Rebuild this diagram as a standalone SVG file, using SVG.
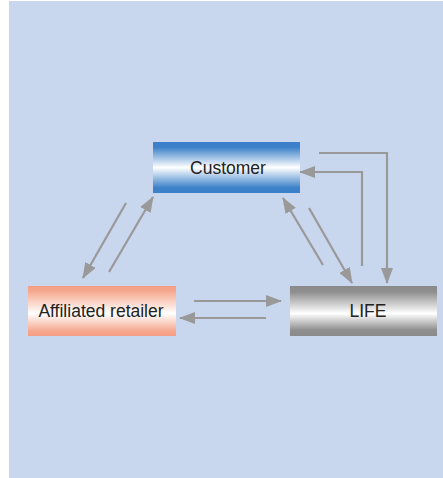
<svg xmlns="http://www.w3.org/2000/svg" width="443" height="478" viewBox="0 0 443 478">
<defs>
<style>
.lbl{font-family:"Liberation Sans",Arial,sans-serif;font-size:17.5px;fill:#222;text-anchor:middle}
.c{fill:none;stroke:#999;stroke-width:2.2}
</style>
<linearGradient id="gBlue" x1="0" y1="0" x2="0" y2="1">
<stop offset="0" stop-color="#3b80c8"/><stop offset="0.1" stop-color="#3b80c8"/><stop offset="0.5" stop-color="#ffffff"/><stop offset="0.9" stop-color="#3b80c8"/><stop offset="1" stop-color="#3b80c8"/>
</linearGradient>
<linearGradient id="gSalmon" x1="0" y1="0" x2="0" y2="1">
<stop offset="0" stop-color="#f59c84"/><stop offset="0.1" stop-color="#f5a88e"/><stop offset="0.55" stop-color="#ffffff"/><stop offset="0.9" stop-color="#f5a88e"/><stop offset="1" stop-color="#f59c84"/>
</linearGradient>
<linearGradient id="gGray" x1="0" y1="0" x2="0" y2="1">
<stop offset="0" stop-color="#8a8a8a"/><stop offset="0.12" stop-color="#8f8f8f"/><stop offset="0.55" stop-color="#ffffff"/><stop offset="0.88" stop-color="#8f8f8f"/><stop offset="1" stop-color="#8a8a8a"/>
</linearGradient>
<marker id="ah" markerUnits="userSpaceOnUse" markerWidth="16" markerHeight="12" refX="15" refY="6" orient="auto">
<polygon points="0,0 16,6 0,12" fill="#999"/>
</marker>
</defs>
<rect x="9" y="1" width="434" height="477" fill="#c8d7ed"/>
<g id="connectors">
<line class="c" x1="126" y1="203" x2="83" y2="278" marker-end="url(#ah)"/>
<line class="c" x1="109" y1="272" x2="153" y2="197" marker-end="url(#ah)"/>
<line class="c" x1="323" y1="265" x2="283" y2="198" marker-end="url(#ah)"/>
<line class="c" x1="309" y1="208" x2="352" y2="283" marker-end="url(#ah)"/>
<polyline class="c" points="319,153 387,153 387,283" marker-end="url(#ah)"/>
<polyline class="c" points="362,266 362,172 300,172" marker-end="url(#ah)"/>
<line class="c" x1="194" y1="301" x2="281" y2="301" marker-end="url(#ah)"/>
<line class="c" x1="266" y1="318" x2="180" y2="318" marker-end="url(#ah)"/>
</g>
<g id="customer">
<rect x="153" y="142" width="147" height="51" fill="url(#gBlue)"/>
<text class="lbl" x="228" y="174">Customer</text>
</g>
<g id="retailer">
<rect x="28" y="286" width="148" height="50" fill="url(#gSalmon)"/>
<text class="lbl" x="101" y="317">Affiliated retailer</text>
</g>
<g id="life">
<rect x="290" y="286" width="147" height="50" fill="url(#gGray)"/>
<text class="lbl" x="368" y="317">LIFE</text>
</g>
</svg>
